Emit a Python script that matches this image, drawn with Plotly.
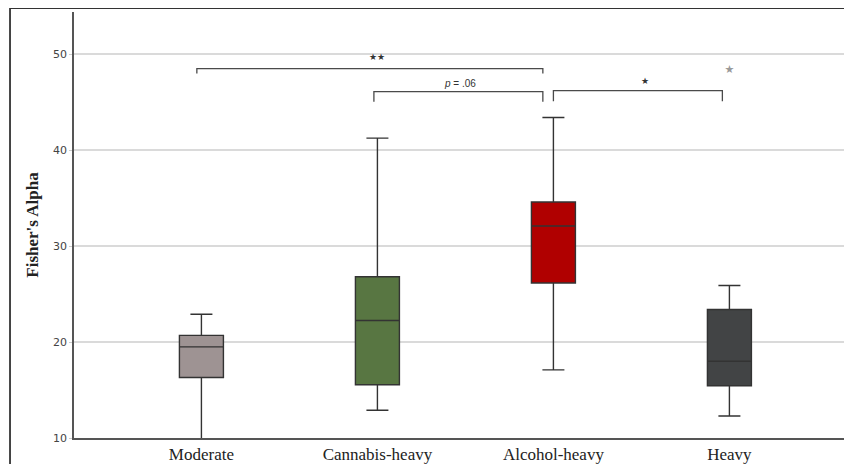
import plotly.graph_objects as go

categories = ["Moderate", "Cannabis-heavy", "Alcohol-heavy", "Heavy"]
q1 = [16.3, 15.55, 26.15, 15.45]
median = [19.5, 22.25, 32.1, 18.0]
q3 = [20.7, 26.8, 34.6, 23.4]
lowerfence = [9.0, 12.9, 17.1, 12.3]
upperfence = [22.9, 41.25, 43.4, 25.9]
fills = ["#9e9393", "#587642", "#b00000", "#424445"]
outlier_cat = [3]
outlier_val = [48.3]

# significance brackets: (x_start, x_end, y_top, y_tick_bottom, label, label_x, label_y)
brackets = [
    (-0.026, 1.94, 48.5, 48.0, "★★", 1.0, 49.75),
    (0.98, 1.94, 46.1, 45.05, "<i>p</i> = .06", 1.47, 46.9),
    (2.0, 2.96, 46.2, 45.1, "★", 2.52, 47.2),
]

fig = go.Figure()
for i, c in enumerate(categories):
    fig.add_trace(go.Box(
        x=[i], q1=[q1[i]], median=[median[i]], q3=[q3[i]],
        lowerfence=[lowerfence[i]], upperfence=[upperfence[i]],
        fillcolor=fills[i], line=dict(color="#333333", width=1.4),
        width=0.25, whiskerwidth=0.5, boxpoints=False, showlegend=False,
        name=c,
    ))

fig.add_trace(go.Scatter(
    x=outlier_cat, y=outlier_val, mode="text", text=["★"],
    textfont=dict(size=11, color="#9a9a9a", family="DejaVu Sans"),
    showlegend=False, hoverinfo="skip",
))

shapes = []
annotations = []
for x0, x1, yt, yb, lab, lx, ly in brackets:
    shapes.append(dict(
        type="path", xref="x", yref="y",
        path=f"M {x0},{yb} L {x0},{yt} L {x1},{yt} L {x1},{yb}",
        line=dict(color="#4a4a4a", width=1.3),
    ))
    star = "★" in lab
    annotations.append(dict(
        x=lx, y=ly, xref="x", yref="y", text=lab, showarrow=False,
        font=dict(size=9 if star else 10, color="#333",
                  family="DejaVu Sans" if star else "Liberation Sans"),
    ))

# outer frame (top and left visible)
shapes.append(dict(
    type="rect", xref="paper", yref="paper",
    x0=-0.0814, x1=1.2, y0=-0.3, y1=1.0094,
    line=dict(color="#333", width=1.8), layer="below",
))

fig.update_layout(
    width=852, height=456,
    margin=dict(l=66, r=0, t=4, b=26, autoexpand=False),
    paper_bgcolor="white", plot_bgcolor="white",
    shapes=shapes, annotations=annotations,
    xaxis=dict(
        range=[-0.724, 3.742], tickvals=[0, 1, 2, 3], ticktext=categories,
        showgrid=False, zeroline=False, showline=True, linecolor="#555",
        linewidth=1.5, ticks="", automargin=False,
        tickfont=dict(family="Liberation Serif", size=17, color="#222"),
    ),
    yaxis=dict(
        range=[10, 54.4], tickvals=[10, 20, 30, 40, 50],
        showgrid=True, gridcolor="#dadada", gridwidth=1.5,
        zeroline=False, showline=True, linecolor="#555", linewidth=1.5,
        ticks="outside", ticklen=3, tickcolor="#ccc", automargin=False,
        tickfont=dict(family="DejaVu Sans", size=11, color="#444"),
        title=dict(text="<b>Fisher's Alpha</b>",
                   font=dict(family="Liberation Serif", size=17, color="#222"),
                   standoff=10),
    ),
)

fig.write_html("out.html")
